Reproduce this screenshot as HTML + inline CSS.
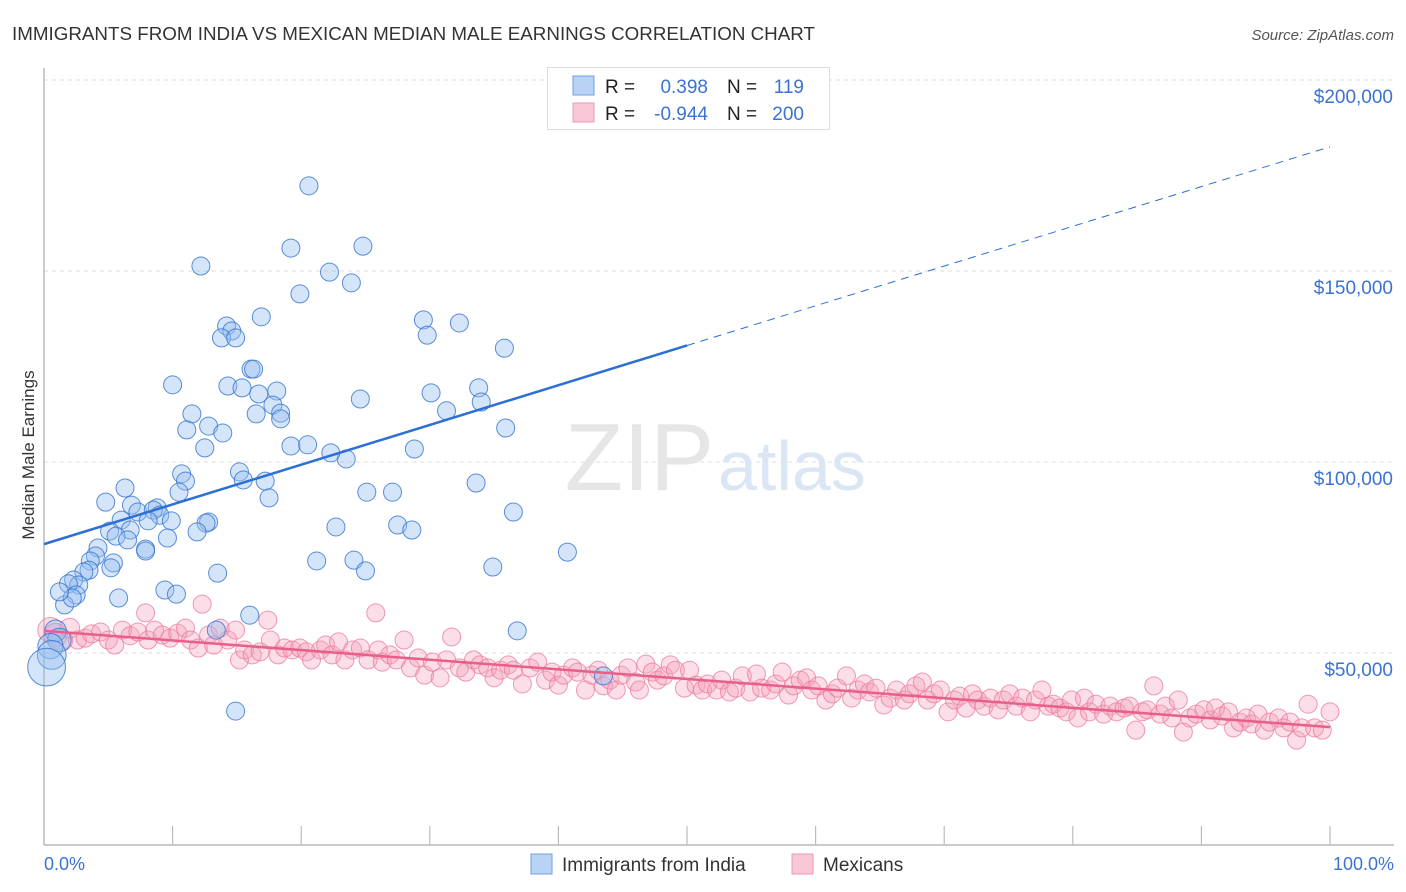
<!DOCTYPE html>
<html><head><meta charset="utf-8">
<style>
body{margin:0;background:#fff;font-family:"Liberation Sans",sans-serif;}
#wrap{position:relative;width:1406px;height:892px;overflow:hidden;}
svg text{font-family:"Liberation Sans",sans-serif;}
</style></head>
<body>
<div id="wrap">
<svg id="chart" width="1406" height="892">
  <text x="12" y="40" font-size="18.8" fill="#333" textLength="803">IMMIGRANTS FROM INDIA VS MEXICAN MEDIAN MALE EARNINGS CORRELATION CHART</text>
  <text x="1394" y="40" font-size="15" font-style="italic" fill="#555" text-anchor="end">Source: ZipAtlas.com</text>
  <g id="grid"></g>
  <text x="714" y="490" font-size="96" fill="#e6e6e6" text-anchor="end" font-family="Liberation Serif">ZIP</text>
  <text x="718" y="490" font-size="70" fill="#dbe6f4">atlas</text>
  <line x1="44" y1="68" x2="44" y2="845" stroke="#aaa" stroke-width="1.2"/>
  <line x1="44" y1="845" x2="1394" y2="845" stroke="#aaa" stroke-width="1.2"/>
  <g id="ticks"></g>
  <g id="pink"></g>
  <g id="blue"></g>
  <g id="trends"></g>
  <g id="ylabels"></g>
  <text x="44" y="870" font-size="18" fill="#3b73d4">0.0%</text>
  <text x="1394" y="870" font-size="18" fill="#3b73d4" text-anchor="end">100.0%</text>
  <text transform="translate(34,455) rotate(-90)" font-size="17" fill="#333" text-anchor="middle">Median Male Earnings</text>
  <g>
    <rect x="547.5" y="67.5" width="282" height="62" fill="#fff" stroke="#ddd"/>
    <rect x="573" y="76" width="21" height="19" fill="#b9d3f5" stroke="#6e9fe0"/>
    <rect x="573" y="103" width="21" height="19" fill="#f9c8d7" stroke="#ee9ab3"/>
    <text x="605" y="93" font-size="19" fill="#222">R = </text>
    <text x="708" y="93" font-size="19" fill="#3b73d4" text-anchor="end">0.398</text>
    <text x="727" y="93" font-size="19" fill="#222">N = </text>
    <text x="804" y="93" font-size="19" fill="#3b73d4" text-anchor="end">119</text>
    <text x="605" y="120" font-size="19" fill="#222">R = </text>
    <text x="708" y="120" font-size="19" fill="#3b73d4" text-anchor="end">-0.944</text>
    <text x="727" y="120" font-size="19" fill="#222">N = </text>
    <text x="804" y="120" font-size="19" fill="#3b73d4" text-anchor="end">200</text>
  </g>
  <g>
    <rect x="531" y="854" width="21" height="20" fill="#b9d3f5" stroke="#6e9fe0"/>
    <text x="562" y="871" font-size="19" fill="#333">Immigrants from India</text>
    <rect x="792" y="854" width="21" height="20" fill="#f9c8d7" stroke="#ee9ab3"/>
    <text x="823" y="871" font-size="19" fill="#333">Mexicans</text>
  </g>
</svg>
</div>
<script>
const yTicks=[50000,100000,150000,200000];
const yTickLabels=["$50,000","$100,000","$150,000","$200,000"];
const xTicks=[10,20,30,40,50,60,70,80,90,100];
const indiaX=[20.6,12.2,19.2,24.8,22.2,23.9,19.9,16.9,29.5,32.3,14.2,14.6,13.8,14.9,29.8,35.8,16.1,16.3,10.0,14.3,15.4,16.7,18.1,33.8,30.1,24.6,34.0,17.8,11.5,16.5,18.4,18.4,31.3,11.1,12.8,13.9,35.9,19.2,20.5,12.5,28.8,23.5,22.3,10.7,15.2,11.0,15.5,17.2,33.6,10.5,6.3,25.1,27.1,17.5,4.8,6.8,8.8,7.3,8.5,9.0,9.9,6.0,12.8,12.6,8.1,22.7,27.5,36.5,28.6,5.1,6.7,5.6,11.9,9.6,6.5,7.9,4.2,7.9,40.7,24.1,21.2,4.0,3.6,5.4,3.5,5.2,3.1,2.3,2.7,1.9,13.5,25.0,34.9,2.5,1.6,2.2,9.4,10.3,5.8,1.2,16.0,13.4,36.8,0.9,1.2,0.5,0.6,0.2,14.9,43.5];
const indiaY=[172.3,151.3,156.0,156.5,149.7,146.9,144.0,138.0,137.2,136.4,135.6,134.3,132.5,132.5,133.2,129.8,124.3,124.3,120.2,119.9,119.4,117.8,118.6,119.4,118.1,116.5,115.7,114.9,112.6,112.6,112.8,111.3,113.4,108.4,109.4,107.6,108.9,104.2,104.5,103.7,103.4,100.8,102.4,96.9,97.4,95.0,95.3,95.0,94.5,92.1,93.2,92.1,92.1,90.6,89.5,88.7,88.0,86.9,87.4,86.1,84.6,84.8,84.3,84.0,84.6,83.0,83.5,86.9,82.2,81.9,82.2,80.6,81.7,80.1,79.6,77.2,77.5,76.7,76.4,74.3,74.1,75.4,74.1,73.6,71.7,72.3,71.2,69.1,67.8,68.1,70.9,71.5,72.5,65.2,62.6,64.4,66.5,65.4,64.4,66.0,59.9,56.0,55.8,55.8,53.4,51.8,49.5,46.3,34.8,44.0];
const indiaSize=[1,1,1,1,1,1,1,1,1,1,1,1,1,1,1,1,1,1,1,1,1,1,1,1,1,1,1,1,1,1,1,1,1,1,1,1,1,1,1,1,1,1,1,1,1,1,1,1,1,1,1,1,1,1,1,1,1,1,1,1,1,1,1,1,1,1,1,1,1,1,1,1,1,1,1,1,1,1,1,1,1,1,1,1,1,1,1,1,1,1,1,1,1,1,1,1,1,1,1,1,1,1,1,1.2,1.3,1.4,1.6,2.1,1,1];
const mexX=[0.5,0.9,1.4,2.0,2.6,3.2,3.7,4.4,5.0,5.5,6.1,6.7,7.3,7.9,8.1,8.6,9.2,9.8,10.4,11.0,11.4,12.0,12.3,12.8,13.2,13.7,14.3,14.9,15.2,15.6,16.2,16.8,17.4,17.6,18.2,18.7,19.3,19.9,20.4,20.8,21.5,21.9,22.4,22.9,23.4,24.0,24.6,25.2,25.8,26.0,26.3,26.9,27.4,28.0,28.5,29.1,29.6,30.2,30.8,31.3,31.7,32.3,32.8,33.4,33.9,34.5,35.0,35.5,36.1,36.5,37.2,37.8,38.4,39.0,39.5,40.0,40.4,41.1,41.5,42.1,42.6,43.1,43.5,44.0,44.5,44.9,45.4,46.0,46.3,46.8,47.3,47.7,48.2,48.7,49.1,49.8,50.2,50.7,51.2,51.6,52.3,52.7,53.3,53.8,54.3,54.9,55.4,55.8,56.5,56.9,57.4,57.9,58.3,58.8,59.3,59.7,60.2,60.8,61.3,61.7,62.4,62.8,63.3,63.8,64.2,64.7,65.3,65.8,66.3,66.9,67.3,67.8,68.3,68.7,69.2,69.7,70.3,70.8,71.2,71.7,72.2,72.6,73.1,73.6,74.2,74.6,75.1,75.6,76.1,76.7,77.1,77.6,78.1,78.5,79.0,79.5,79.9,80.4,80.9,81.3,81.8,82.4,82.9,83.4,84.0,84.4,84.9,85.4,85.8,86.3,86.8,87.2,87.7,88.2,88.6,89.1,89.6,90.2,90.7,91.1,91.6,92.1,92.5,93.0,93.5,93.9,94.4,94.9,95.3,96.0,96.4,96.9,97.4,97.8,98.3,98.8,99.4,100];
const mexY=[56.0,54.7,53.4,56.5,53.4,53.9,55.0,55.5,53.4,52.1,56.0,54.5,55.5,60.5,53.4,56.0,54.7,53.9,55.2,56.5,53.4,51.3,62.8,54.7,52.1,56.5,53.4,56.0,48.2,50.8,49.5,50.3,58.6,53.4,49.5,51.3,50.8,51.3,50.3,48.2,50.8,52.1,49.5,52.9,48.2,50.8,51.3,48.2,60.5,50.8,47.6,49.5,48.2,53.4,46.1,48.7,44.2,47.6,43.5,48.2,54.2,46.1,45.0,48.2,46.9,46.1,43.5,45.5,46.9,45.5,41.9,46.1,47.6,42.9,45.0,41.6,44.2,46.1,45.0,40.3,44.2,45.5,41.4,42.9,40.3,44.2,46.1,42.4,40.3,47.1,45.0,42.9,44.0,46.9,45.5,40.8,45.5,41.6,40.3,41.9,40.3,42.9,39.8,40.8,44.0,39.8,44.5,40.8,40.3,41.9,45.0,39.0,41.4,42.9,43.5,40.3,41.4,37.7,39.3,40.8,44.0,38.2,40.3,41.9,39.8,40.8,36.4,38.2,40.3,37.7,39.3,41.4,42.4,37.7,39.3,40.3,34.6,37.7,38.7,35.6,39.3,37.7,36.1,38.2,35.1,37.7,39.3,36.1,38.2,34.6,37.7,40.3,36.1,36.6,35.6,34.6,37.7,33.0,38.2,34.6,36.6,34.0,36.1,34.6,35.6,36.1,29.8,34.6,35.1,41.4,34.0,36.1,33.0,37.7,29.3,33.0,34.0,35.1,32.5,35.6,33.5,34.6,30.4,31.9,33.0,31.4,34.0,29.8,31.9,33.0,30.4,31.9,27.2,30.4,36.6,30.4,29.8,34.6];
const mexSize=[1.4,1.3,1.2,1.1,1,1,1,1,1,1,1,1,1,1,1,1,1,1,1,1,1,1,1,1,1,1,1,1,1,1,1,1,1,1,1,1,1,1,1,1,1,1,1,1,1,1,1,1,1,1,1,1,1,1,1,1,1,1,1,1,1,1,1,1,1,1,1,1,1,1,1,1,1,1,1,1,1,1,1,1,1,1,1,1,1,1,1,1,1,1,1,1,1,1,1,1,1,1,1,1,1,1,1,1,1,1,1,1,1,1,1,1,1,1,1,1,1,1,1,1,1,1,1,1,1,1,1,1,1,1,1,1,1,1,1,1,1,1,1,1,1,1,1,1,1,1,1,1,1,1,1,1,1,1,1,1,1,1,1,1,1,1,1,1,1,1,1,1,1,1,1,1,1,1,1,1,1,1,1,1,1,1,1,1,1,1,1,1,1,1,1,1,1,1,1,1,1,1,1,1];
const indiaTrend=[78.5,182.5];
const mexTrend=[55.8,30.6];

const NS="http://www.w3.org/2000/svg";
function sx(p){return 44+p*12.86;}
function sy(v){return 844-v*191/50000;}
function mk(tag,attrs,parent){const e=document.createElementNS(NS,tag);for(const k in attrs)e.setAttribute(k,attrs[k]);parent.appendChild(e);return e;}

const grid=document.getElementById('grid'),yl=document.getElementById('ylabels');
yTicks.forEach((v,i)=>{
  const l=mk('line',{x1:44,x2:1394,y1:sy(v),y2:sy(v),stroke:'#ddd','stroke-dasharray':'4,4'},grid);
  
  
  const t=mk('text',{x:1393,y:sy(v)+23,'font-size':19,fill:'#3b73d4','text-anchor':'end'},yl);
  t.textContent=yTickLabels[i];
  
  
});
const tk=document.getElementById('ticks');
xTicks.forEach(p=>{
  const l=mk('line',{x1:sx(p),x2:sx(p),y1:826,y2:845,stroke:'#bbb','stroke-width':1.2},tk);
  
  
});
const pg=document.getElementById('pink');
mexX.forEach((p,i)=>{
  const c=mk('circle',{cx:sx(p),cy:sy(mexY[i]*1000),r:9*mexSize[i],fill:'rgba(244,160,187,0.35)',stroke:'rgba(236,120,155,0.75)','stroke-width':1},pg);
  
  
});
const bg=document.getElementById('blue');
indiaX.forEach((p,i)=>{
  const c=mk('circle',{cx:sx(p),cy:sy(indiaY[i]*1000),r:9*indiaSize[i],fill:'rgba(150,190,240,0.4)',stroke:'rgba(50,115,210,0.8)','stroke-width':1},bg);
  
  
});
const tr=document.getElementById('trends');
const bm=indiaTrend[0]+(indiaTrend[1]-indiaTrend[0])*0.5;
const l1=mk('line',{x1:sx(0),y1:sy(indiaTrend[0]*1000),x2:sx(50),y2:sy(bm*1000),stroke:'#2c6fd6','stroke-width':2.5},tr);


const l2=mk('line',{x1:sx(50),y1:sy(bm*1000),x2:sx(100),y2:sy(indiaTrend[1]*1000),stroke:'#2c6fd6','stroke-width':1,'stroke-dasharray':'8,6'},tr);


const l3=mk('line',{x1:sx(0),y1:sy(mexTrend[0]*1000),x2:sx(100),y2:sy(mexTrend[1]*1000),stroke:'#e8608a','stroke-width':2.5},tr);


</script>
</body></html>
